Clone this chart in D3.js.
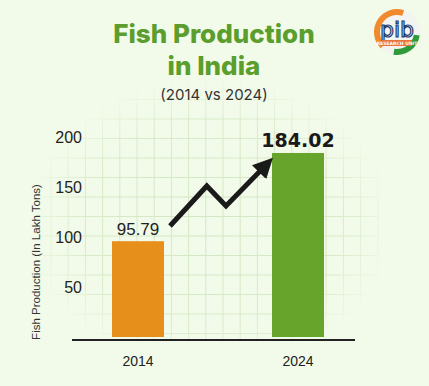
<!DOCTYPE html>
<html>
<head>
<meta charset="utf-8">
<script src="https://cdn.jsdelivr.net/npm/d3@7"></script>
<style>
  body { margin: 0; background: #f2fbe9; }
  svg { display: block; }
  .title { font-family: Inter, "Open Sans", sans-serif; font-weight: 800; fill: #5c9e2e; }
  .tick-label { font-family: "Liberation Sans", Arial, sans-serif; fill: #222; }
</style>
</head>
<body>
<div id="chart"></div>
<script>
var years = ["2014", "2024"];
var production = [95.79, 184.02];
var barColors = ["#e68f1a", "#66a42c"];
var yTicks = [50, 100, 150, 200];
// decorative trend arrow, in [position between the two years, value] units
var trendArrow = [[0.2, 111], [0.43, 151], [0.55, 131], [0.8, 172]];

var width = 429;
var height = 386;

var svg = d3.select("#chart").append("svg")
    .attr("width", width)
    .attr("height", height);

svg.append("rect")
    .attr("width", width)
    .attr("height", height)
    .attr("fill", "#f2fbe9");

// faint graph paper behind the chart
var defs = svg.append("defs");
var grad = defs.append("radialGradient")
    .attr("id", "fade")
    .attr("cx", "50%").attr("cy", "55%").attr("r", "55%");
grad.append("stop").attr("offset", "0%").attr("stop-color", "#fff").attr("stop-opacity", 1);
grad.append("stop").attr("offset", "70%").attr("stop-color", "#fff").attr("stop-opacity", 0.85);
grad.append("stop").attr("offset", "100%").attr("stop-color", "#fff").attr("stop-opacity", 0);
defs.append("mask").attr("id", "gridMask")
  .append("rect")
    .attr("x", 40).attr("y", 75).attr("width", 340).attr("height", 270)
    .attr("fill", "url(#fade)");

var grid = svg.append("g").attr("mask", "url(#gridMask)")
    .attr("stroke", "#d3e7c3").attr("stroke-width", 1);
grid.selectAll("line.v")
  .data(d3.range(51, 380, 17.2))
  .join("line")
    .attr("x1", d => d).attr("x2", d => d)
    .attr("y1", 75).attr("y2", 340);
grid.selectAll("line.h")
  .data(d3.range(80, 340, 19.5))
  .join("line")
    .attr("x1", 40).attr("x2", 380)
    .attr("y1", d => d).attr("y2", d => d);

// titles
svg.append("text")
    .attr("class", "title")
    .attr("x", 214).attr("y", 43)
    .attr("text-anchor", "middle")
    .style("font-size", "26px")
    .text("Fish Production");
svg.append("text")
    .attr("class", "title")
    .attr("x", 214).attr("y", 75)
    .attr("text-anchor", "middle")
    .style("font-size", "26px")
    .text("in India");
svg.append("text")
    .attr("x", 214).attr("y", 100)
    .attr("text-anchor", "middle")
    .style("font-family", "Inter, 'Open Sans', sans-serif")
    .style("font-size", "15px")
    .style("fill", "#333")
    .text("(2014 vs 2024)");

// scales
var x = d3.scaleBand()
    .domain(years)
    .range([58, 378])
    .paddingInner(0.675)
    .paddingOuter(0.3375);

var y = d3.scaleLinear()
    .domain([0, 200])
    .range([337, 137]);

var xPos = d3.scaleLinear()
    .domain([0, 1])
    .range([x(years[0]) + x.bandwidth() / 2, x(years[1]) + x.bandwidth() / 2]);

// y tick labels
svg.selectAll("text.ylab")
  .data(yTicks)
  .join("text")
    .attr("class", "tick-label")
    .attr("x", 82)
    .attr("y", d => y(d))
    .attr("dy", "0.35em")
    .attr("text-anchor", "end")
    .style("font-size", "16px")
    .text(d => d);

svg.append("text")
    .attr("transform", "translate(40," + y(75) + ") rotate(-90)")
    .attr("text-anchor", "middle")
    .style("font-family", "'Liberation Sans', Arial, sans-serif")
    .style("font-size", "11.5px")
    .style("fill", "#333")
    .text("Fish Production (In Lakh Tons)");

// bars
svg.selectAll("rect.bar")
  .data(production)
  .join("rect")
    .attr("class", "bar")
    .attr("x", (d, i) => x(years[i]))
    .attr("width", x.bandwidth())
    .attr("y", d => y(d))
    .attr("height", d => y(0) - y(d))
    .attr("fill", (d, i) => barColors[i]);

// baseline
svg.append("line")
    .attr("x1", 72).attr("x2", 355)
    .attr("y1", y(0) + 3).attr("y2", y(0) + 3)
    .attr("stroke", "#222")
    .attr("stroke-width", 2);

// value labels
svg.append("text")
    .attr("x", x(years[0]) + x.bandwidth() / 2)
    .attr("y", y(production[0]) - 6)
    .attr("text-anchor", "middle")
    .style("font-family", "'Liberation Sans', Arial, sans-serif")
    .style("font-size", "17px")
    .style("fill", "#222")
    .text(production[0].toFixed(2));
svg.append("text")
    .attr("x", x(years[1]) + x.bandwidth() / 2)
    .attr("y", y(production[1]) - 6)
    .attr("text-anchor", "middle")
    .style("font-family", "'DejaVu Sans', sans-serif")
    .style("font-weight", "bold")
    .style("font-size", "19px")
    .style("fill", "#1a1a1a")
    .text(production[1].toFixed(2));

// x labels
svg.selectAll("text.xlab")
  .data(years)
  .join("text")
    .attr("class", "tick-label")
    .attr("x", d => x(d) + x.bandwidth() / 2)
    .attr("y", 366)
    .attr("text-anchor", "middle")
    .style("font-size", "14px")
    .text(d => d);

// trend arrow
defs.append("marker")
    .attr("id", "head")
    .attr("viewBox", "0 0 10 10")
    .attr("refX", 5).attr("refY", 5)
    .attr("markerWidth", 4).attr("markerHeight", 4)
    .attr("orient", "auto")
  .append("path")
    .attr("d", "M0,0 L10,5 L0,10 Z")
    .attr("fill", "#1a1a1a");

var arrowLine = d3.line()
    .x(d => xPos(d[0]))
    .y(d => y(d[1]));

svg.append("path")
    .attr("d", arrowLine(trendArrow))
    .attr("fill", "none")
    .attr("stroke", "#1a1a1a")
    .attr("stroke-width", 5)
    .attr("stroke-linejoin", "miter")
    .attr("marker-end", "url(#head)");

// PIB research unit badge
var logo = svg.append("g").attr("transform", "translate(397,32)");
logo.append("circle").attr("r", 23).attr("fill", "#f3f3f1");
var arc = d3.arc().innerRadius(17).outerRadius(23);
logo.append("path")
    .attr("d", arc({ startAngle: -Math.PI * 0.75, endAngle: Math.PI * 0.1 }))
    .attr("fill", "#f08a2c");
logo.append("path")
    .attr("d", arc({ startAngle: Math.PI * 0.55, endAngle: Math.PI * 1.05 }))
    .attr("fill", "#2e9a3a");
logo.append("text")
    .attr("y", 5)
    .attr("text-anchor", "middle")
    .style("font-family", "'DejaVu Sans', sans-serif")
    .style("font-size", "22px")
    .style("fill", "none")
    .style("stroke", "#1d3a6b")
    .style("stroke-width", 1.2)
    .text("pib");
logo.append("rect")
    .attr("x", -15).attr("y", 8).attr("width", 30).attr("height", 6)
    .attr("fill", "#e8743b");
logo.append("text")
    .attr("y", 13)
    .attr("text-anchor", "middle")
    .style("font-family", "'DejaVu Sans', sans-serif")
    .style("font-size", "4.5px")
    .style("font-weight", "bold")
    .style("fill", "#fff")
    .text("RESEARCH UNIT");
</script>
</body>
</html>
